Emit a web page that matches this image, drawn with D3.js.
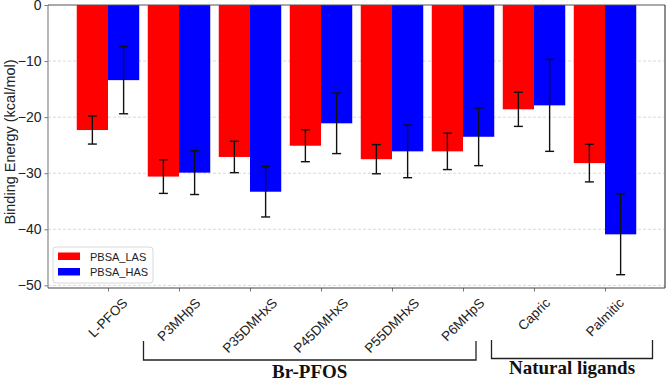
<!DOCTYPE html>
<html>
<head>
<meta charset="utf-8">
<script src="https://cdn.jsdelivr.net/npm/d3@7"></script>
<style>
  body { margin: 0; background: #fff; }
  svg { display: block; font-family: "Liberation Sans", Arial, sans-serif; }
  .grid line { stroke: #cfcfcf; stroke-dasharray: 3,2; stroke-width: 0.8; }
  .axis text { font-size: 14px; fill: #222; }
  .axis path, .axis line { stroke: #777; }
</style>
</head>
<body>
<script>
var categories = ["L-PFOS", "P3MHpS", "P35DMHxS", "P45DMHxS", "P55DMHxS", "P6MHpS", "Capric", "Palmitic"];
var lasValues = [-22.3, -30.6, -27.1, -25.1, -27.5, -26.1, -18.6, -28.2];
var lasErrors = [2.5, 3.0, 2.8, 2.85, 2.6, 3.25, 3.05, 3.35];
var hasValues = [-13.4, -29.9, -33.3, -21.1, -26.1, -23.5, -17.9, -40.9];
var hasErrors = [6.0, 3.9, 4.5, 5.4, 4.7, 5.15, 8.2, 7.2];
var seriesNames = ["PBSA_LAS", "PBSA_HAS"];
var yTicks = [0, -10, -20, -30, -40, -50];
var groups = [
  {label: "Br-PFOS", from: 1, to: 5},
  {label: "Natural ligands", from: 6, to: 7}
];

var W = 666, H = 382;
var pLeft = 48, pRight = 665, pTop = 5, pBottom = 288;
var barW = 0.44;

var x = d3.scaleLinear().domain([-0.845, 7.845]).range([pLeft, pRight]);
var y = d3.scaleLinear().domain([-50.47, 0]).range([pBottom, pTop]);

var svg = d3.select("body").append("svg")
    .attr("width", W)
    .attr("height", H);

// grid
svg.append("g")
    .attr("class", "grid")
    .selectAll("line")
    .data(yTicks.filter(function(d) { return d !== 0; }))
    .enter().append("line")
    .attr("x1", pLeft).attr("x2", pRight)
    .attr("y1", function(d) { return y(d); })
    .attr("y2", function(d) { return y(d); });

var series = [
  {name: seriesNames[0], vals: lasValues, errs: lasErrors, color: "#ff0000", off: -barW / 2},
  {name: seriesNames[1], vals: hasValues, errs: hasErrors, color: "#0000ff", off: barW / 2}
];

series.forEach(function(s) {
  var g = svg.append("g");
  g.selectAll("rect")
      .data(s.vals)
      .enter().append("rect")
      .attr("x", function(d, i) { return x(i + s.off - barW / 2); })
      .attr("width", x(barW) - x(0))
      .attr("y", y(0))
      .attr("height", function(d) { return y(d) - y(0); })
      .attr("fill", s.color);
});

// error bars
series.forEach(function(s) {
  var g = svg.append("g").attr("stroke", "#111").attr("stroke-width", 1.4);
  s.vals.forEach(function(v, i) {
    var cx = x(i + s.off);
    var y1 = y(v + s.errs[i]), y2 = y(v - s.errs[i]);
    g.append("line").attr("x1", cx).attr("x2", cx).attr("y1", y1).attr("y2", y2);
    g.append("line").attr("x1", cx - 4.5).attr("x2", cx + 4.5).attr("y1", y1).attr("y2", y1);
    g.append("line").attr("x1", cx - 4.5).attr("x2", cx + 4.5).attr("y1", y2).attr("y2", y2);
  });
});

// axes
var yAxis = d3.axisLeft(y)
    .tickValues(yTicks)
    .tickSize(3.5)
    .tickPadding(3)
    .tickFormat(function(d) { return d3.format("d")(d).replace("-", "\u2212"); });

svg.append("g")
    .attr("class", "axis")
    .attr("transform", "translate(" + pLeft + ",0)")
    .call(yAxis)
    .call(function(g) { g.select(".domain").remove(); });

var xAxis = d3.axisBottom(x)
    .tickValues(d3.range(categories.length))
    .tickSize(3.5)
    .tickFormat("");

svg.append("g")
    .attr("class", "axis")
    .attr("transform", "translate(0," + pBottom + ")")
    .call(xAxis)
    .call(function(g) { g.select(".domain").remove(); });

// frame
svg.append("line").attr("x1", pLeft).attr("x2", pLeft).attr("y1", pTop).attr("y2", pBottom)
    .attr("stroke", "#888").attr("stroke-width", 1.2);
svg.append("line").attr("x1", pLeft).attr("x2", pRight).attr("y1", pBottom).attr("y2", pBottom)
    .attr("stroke", "#444").attr("stroke-width", 1.2);
svg.append("line").attr("x1", pLeft).attr("x2", pRight).attr("y1", pTop).attr("y2", pTop)
    .attr("stroke", "#555").attr("stroke-width", 1.2);
svg.append("line").attr("x1", pRight).attr("x2", pRight).attr("y1", pTop).attr("y2", pBottom)
    .attr("stroke", "#444").attr("stroke-width", 1.2);

// rotated category labels, centred under tick
var labG = svg.append("g");
categories.forEach(function(c, i) {
  var t = labG.append("text")
      .attr("font-size", 13.5)
      .attr("fill", "#222")
      .attr("text-anchor", "middle")
      .attr("dominant-baseline", "central")
      .text(c);
  var len = t.node().getComputedTextLength();
  var half = (len + 13) * Math.SQRT1_2 / 2;
  var cy = pBottom + 8 + half;
  t.attr("transform", "translate(" + x(i) + "," + cy + ") rotate(-45)");
});

// y label
svg.append("text")
    .attr("transform", "translate(15,142) rotate(-90)")
    .attr("text-anchor", "middle")
    .attr("font-size", 14.5)
    .attr("fill", "#222")
    .text("Binding Energy (kcal/mol)");

// legend
var lg = svg.append("g").attr("transform", "translate(53,247)");
lg.append("rect")
    .attr("width", 100).attr("height", 36).attr("rx", 3)
    .attr("fill", "#fff").attr("fill-opacity", 0.85)
    .attr("stroke", "#d8d8d8");
series.forEach(function(s, i) {
  lg.append("rect")
      .attr("x", 5).attr("y", 5.5 + i * 15.5)
      .attr("width", 22).attr("height", 7.5)
      .attr("fill", s.color);
  lg.append("text")
      .attr("x", 37).attr("y", 13.5 + i * 15.5)
      .attr("font-size", 11)
      .attr("fill", "#222")
      .text(s.name);
});

// group brackets
var brackets = [
  {x1: 143.5, x2: 476, top: 341, bot: 360, ty: 378},
  {x1: 491.5, x2: 652.5, top: 340, bot: 358.5, ty: 374}
];
groups.forEach(function(gr, k) {
  var b = brackets[k];
  svg.append("path")
      .attr("d", "M" + b.x1 + "," + b.top + "V" + b.bot + "H" + b.x2 + "V" + b.top)
      .attr("fill", "none")
      .attr("stroke", "#222")
      .attr("stroke-width", 1.3);
  svg.append("text")
      .attr("x", (b.x1 + b.x2) / 2)
      .attr("y", b.ty)
      .attr("text-anchor", "middle")
      .attr("font-family", "'Liberation Serif', 'Times New Roman', serif")
      .attr("font-weight", "bold")
      .attr("font-size", 19)
      .attr("fill", "#111")
      .text(gr.label);
});
</script>
</body>
</html>
